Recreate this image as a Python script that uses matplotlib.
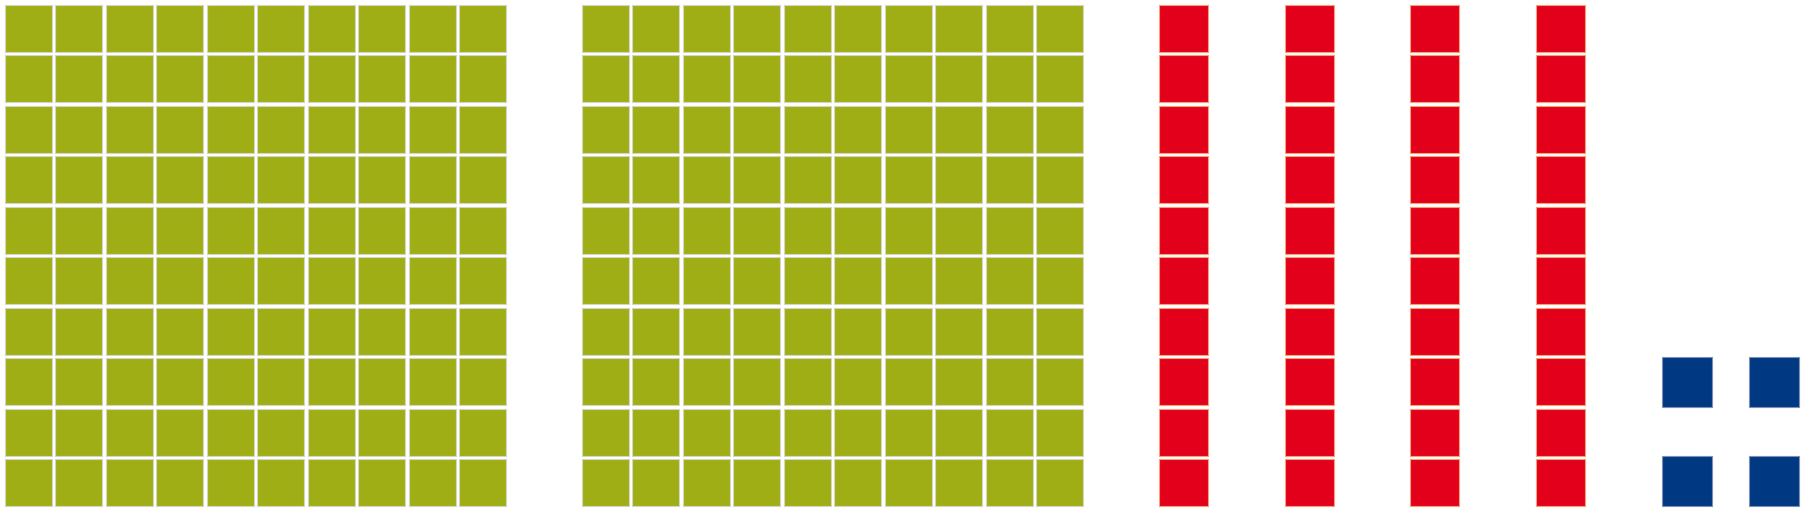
import matplotlib
matplotlib.use("Agg")
import matplotlib.pyplot as plt
from matplotlib.patches import Rectangle

# seats per party (parliament diagram, no labels shown)
parties = ["Party A", "Party B", "Party C"]
seats = [200, 40, 4]
colors = ["#A0AE15", "#E2001A", "#003882"]
edge_colors = ["#d4d6c4", "#f4a07a", "#7f8fb8"]

# block layout in pixels: (x0, x1, y0, y1, ncols, nrows, w, h)
layouts = [
    [(5, 506, 5, 506, 10, 10, 47, 47), (582, 1083, 5, 506, 10, 10, 47, 47)],
    [(1159, 1585, 5, 506, 4, 10, 49, 47)],
    [(1662, 1799, 357, 506, 2, 2, 50, 50)],
]


def draw_block(ax, n, box, color, edge):
    x0, x1, y0, y1, ncols, nrows, w, h = box
    px = (x1 - x0 - w) / (ncols - 1) if ncols > 1 else 0
    py = (y1 - y0 - h) / (nrows - 1) if nrows > 1 else 0
    drawn = 0
    for c in range(ncols):
        for r in range(nrows):
            if drawn >= n:
                return drawn
            ax.add_patch(Rectangle((x0 + c * px, y0 + r * py), w, h,
                                   facecolor=color, edgecolor=edge, linewidth=0.8))
            drawn += 1
    return drawn


fig = plt.figure(figsize=(18.03, 5.11), dpi=100)
ax = fig.add_axes([0, 0, 1, 1])
ax.set_xlim(0, 1803)
ax.set_ylim(511, 0)
ax.axis("off")

for name, n, col, ec, boxes in zip(parties, seats, colors, edge_colors, layouts):
    left = n
    for box in boxes:
        left -= draw_block(ax, left, box, col, ec)

fig.savefig("out.png", dpi=100, facecolor="white")
